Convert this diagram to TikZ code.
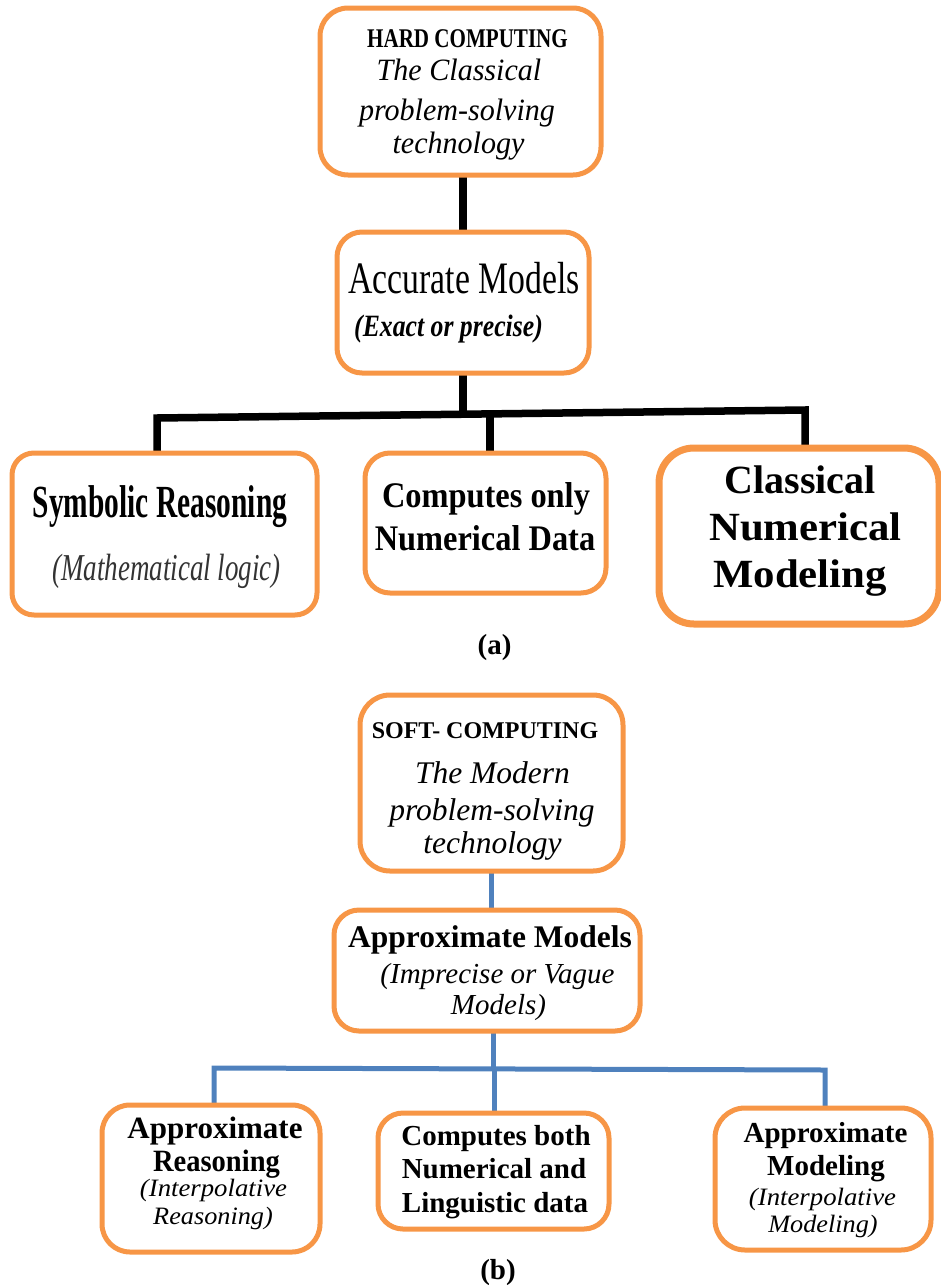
\documentclass[tikz,border=0pt]{standalone}
\usepackage{fontspec}
\setmainfont{Liberation Serif}
\usepackage{graphicx}
\usetikzlibrary{backgrounds}
\definecolor{boxorange}{HTML}{F79646}
\definecolor{linkblue}{HTML}{4F81BD}
% horizontal squeeze / stretch of one line of text
\newcommand\sx[2]{\scalebox{#1}[1]{#2}}
\newcommand\fs[1]{\fontsize{#1}{#1}\selectfont}

\begin{document}
\begin{tikzpicture}[x=1pt,y=-1pt,
  box/.style={draw=boxorange, fill=white, line width=5pt, rounded corners=#1,
              inner sep=0pt, outer sep=0pt},
  box/.default=25pt,
  ln/.style={anchor=base, inner sep=0pt, outer sep=0pt},
  hardlink/.style={draw=black, line width=7.5pt},
  softlink/.style={draw=linkblue, line width=5pt},
]
\useasboundingbox (0,0) rectangle (941,1285);

% ---------------- (a) hard computing ----------------
\node[box=28pt, minimum width=281pt, minimum height=167pt] (hard) at (460.5,91.5) {};
\node[box=25pt, minimum width=252pt, minimum height=141pt] (acc) at (463,302.5) {};
\node[box=22pt, minimum width=305pt, minimum height=162pt] (sym) at (164.5,534) {};
\node[box=25pt, minimum width=241pt, minimum height=140pt] (num) at (485.5,523) {};
\node[box=35pt, line width=7pt, minimum width=280pt, minimum height=176pt] (cnm) at (799,536) {};

\node[ln, font=\fs{27}\bfseries] (t1a) at (467.5,47) {\sx{0.78}{HARD COMPUTING}};
\node[ln, font=\fs{31}\itshape] (t1b) at (459,80) {\sx{0.97}{The Classical}};
\node[ln, font=\fs{31}\itshape] (t1c) at (457,120) {\sx{0.97}{problem-solving}};
\node[ln, font=\fs{31}\itshape] (t1d) at (458.5,153) {\sx{0.97}{technology}};

\node[ln, font=\fs{45}] (t2a) at (464,293) {\sx{0.75}{Accurate Models}};
\node[ln, font=\fs{31}\bfseries\itshape] (t2b) at (448.5,336) {\sx{0.83}{(Exact or precise)}};

\node[ln, font=\fs{46}\bfseries] (t3a) at (160,517) {\sx{0.64}{Symbolic Reasoning}};
\node[ln, font=\fs{38}\itshape, text=black!80] (t3b) at (166.5,580) {\sx{0.71}{(Mathematical logic)}};

\node[ln, font=\fs{36}\bfseries] (t4a) at (486,507) {\sx{0.9}{Computes only}};
\node[ln, font=\fs{36}\bfseries] (t4b) at (485,550) {\sx{0.9}{Numerical Data}};

\node[ln, font=\fs{40}\bfseries] (t5a) at (800,493) {Classical};
\node[ln, font=\fs{40}\bfseries] (t5b) at (805.5,540) {\sx{1.07}{Numerical}};
\node[ln, font=\fs{40}\bfseries] (t5c) at (800,587) {\sx{1.07}{Modeling}};

\node[ln, font=\fs{29}\bfseries] (capa) at (494.5,654) {(a)};

% ---------------- (b) soft computing ----------------
\node[box=30pt, minimum width=263pt, minimum height=176pt] (soft) at (491.5,783) {};
\node[box=25pt, minimum width=306pt, minimum height=121pt] (apx) at (487,970.5) {};
\node[box=28pt, minimum width=218pt, minimum height=147pt] (ar) at (211,1178.5) {};
\node[box=25pt, minimum width=231pt, minimum height=116pt] (cb) at (493.5,1171) {};
\node[box=30pt, minimum width=216pt, minimum height=142pt] (am) at (823,1179) {};

\node[ln, font=\fs{24}\bfseries] (t6a) at (485,738) {SOFT- COMPUTING};
\node[ln, font=\fs{31.5}\itshape] (t6b) at (492.5,783) {The Modern};
\node[ln, font=\fs{31.5}\itshape] (t6c) at (492,820) {problem-solving};
\node[ln, font=\fs{31.5}\itshape] (t6d) at (492.5,853) {technology};

\node[ln, font=\fs{31.5}\bfseries] (t7a) at (490,947) {Approximate Models};
\node[ln, font=\fs{29}\itshape] (t7b) at (497.5,983) {(Imprecise or Vague};
\node[ln, font=\fs{29}\itshape] (t7c) at (498.5,1014) {Models)};

\node[ln, font=\fs{31}\bfseries] (t8a) at (215,1138) {Approximate};
\node[ln, font=\fs{31}\bfseries] (t8b) at (216.5,1171) {\sx{0.92}{Reasoning}};
\node[ln, font=\fs{25}\itshape] (t8c) at (213.5,1196) {\sx{1.07}{(Interpolative}};
\node[ln, font=\fs{25}\itshape] (t8d) at (213,1224) {\sx{1.05}{Reasoning)}};

\node[ln, font=\fs{29}\bfseries] (t9a) at (496,1145) {Computes both};
\node[ln, font=\fs{29}\bfseries] (t9b) at (494,1178) {Numerical and};
\node[ln, font=\fs{29}\bfseries] (t9c) at (495,1212) {Linguistic data};

\node[ln, font=\fs{29}\bfseries] (t10a) at (825.5,1142) {Approximate};
\node[ln, font=\fs{29}\bfseries] (t10b) at (826,1175) {Modeling};
\node[ln, font=\fs{25}\itshape] (t10c) at (822.5,1205) {\sx{1.07}{(Interpolative}};
\node[ln, font=\fs{25}\itshape] (t10d) at (823,1232) {\sx{1.05}{Modeling)}};

\node[ln, font=\fs{29}\bfseries] (capb) at (498,1279) {(b)};

% ---------------- connectors, behind the boxes ----------------
\begin{scope}[on background layer]
  \coordinate (hj) at (463,414);
  \coordinate (hl) at (157,418);
  \coordinate (hr) at (805,410);
  \coordinate (hm) at (490,414);
  \draw[hardlink, line width=8.5pt] (acc.north |- hard.south) -- (acc.north);
  \draw[hardlink] (acc.south) -- (hj);
  \draw[hardlink, line join=miter] (hl |- sym.north) -- (hl) -- (hr) -- (hr |- cnm.north);
  \draw[hardlink] (hm) -- (hm |- num.north);

  \coordinate (sj) at (493,1069);
  \coordinate (sl) at (214,1068);
  \coordinate (sr) at (825,1070);
  \coordinate (sm) at (494,1069);
  \draw[softlink] (soft.south) -- (soft.south |- apx.north);
  \draw[softlink] (sj |- apx.south) -- (sj);
  \draw[softlink, line join=miter] (sl |- ar.north) -- (sl) -- (sr) -- (sr |- am.north);
  \draw[softlink] (sm) -- (sm |- cb.north);
\end{scope}
\end{tikzpicture}
\end{document}
